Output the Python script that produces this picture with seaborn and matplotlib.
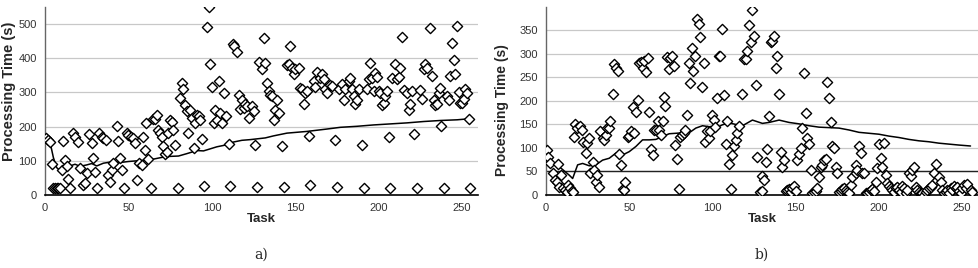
import numpy as np
import pandas as pd
import matplotlib
matplotlib.use("Agg")
import matplotlib.pyplot as plt
import seaborn as sns

# ---- panel a: processing time per task ----
task_a = [0.4, 2, 3, 4, 5, 6, 7, 8, 9, 10, 11, 12, 13, 14, 15, 17, 18, 20, 21, 23, 24, 25, 26.5, 28, 29, 30,
          31, 32.5, 34, 35, 36.5, 38, 39, 40, 41, 43, 44, 45, 46, 47.5, 49, 50, 51.5, 52.5, 54, 55, 56.5, 58,
          59, 60, 61.5, 60.5, 63.5, 64.5, 66, 67, 68, 69, 70, 71, 72, 73, 74, 75, 76, 77, 78, 79.5, 81, 82,
          83, 84, 85, 86, 87, 88, 89, 90, 91, 92, 93, 94, 95, 97, 98, 99, 100, 101, 102, 103, 104, 105, 106,
          107, 108.5, 110, 111, 112.5, 113.5, 115, 116, 117, 118, 119, 120, 121, 122, 124, 125, 126, 127,
          128, 130, 131, 132, 133, 134, 135, 136, 137, 138, 139, 140, 142, 143, 145, 146, 147, 148, 149, 150,
          152, 153, 154, 155, 156, 157, 158, 159, 161, 162, 163, 165, 166, 167, 168, 169, 171, 172, 174, 175,
          176, 178, 179, 180, 182, 183, 184, 185, 186, 187, 188, 190, 191, 193, 194, 195, 196, 197, 198, 199,
          200, 201, 202, 203, 204, 205, 206, 207, 208, 210, 211, 212, 213, 214, 215, 217, 218, 219, 220, 221,
          223, 225, 226, 227, 228, 229, 231, 232, 233, 234, 235, 236, 237, 237.5, 239, 241, 242, 243, 244,
          245, 246, 247, 248, 249, 250, 251, 252, 253, 254, 255]
time_a = [166, 161, 156, 90, 20, 20, 20, 20, 20, 73, 158, 102, 86, 47, 20, 182, 170, 156, 78, 29, 34, 63, 177, 151, 109, 66,
          20, 182, 170, 166, 161, 58, 39, 73, 95, 203, 159, 107, 73, 20, 180, 175, 171, 166, 151, 44, 93, 88,
          169, 132, 105, 210, 20, 222, 222, 235, 191, 181, 171, 142, 120, 127, 181, 220, 215, 191, 147, 20, 284, 328,
          309, 262, 245, 181, 250, 225, 137, 211, 235, 230, 220, 164, 27, 492, 551, 384, 316, 211, 250, 220, 333, 240, 211,
          299, 230, 149, 27, 441, 436, 417, 292, 252, 279, 255, 265, 260, 225, 260, 245, 145, 24,
          389, 368, 458, 385, 328, 304, 294, 289, 219, 250, 277, 240, 144, 23, 379, 382, 436, 372, 353, 368,
          372, 314, 309, 265, 299, 304, 172, 29, 333, 317, 360, 343, 353, 338, 309, 299, 321, 319, 162, 23,
          309, 324, 279, 311, 333, 343, 309, 289, 265, 279, 309, 147, 20, 311, 338, 385, 343, 304, 356, 346,
          304, 297, 262, 268, 289, 304, 170, 20, 343, 382, 338, 346, 372, 463, 307, 299, 250, 265, 304, 179,
          20, 307, 281, 368, 382, 372, 488, 348, 279, 262, 265, 299, 314, 201, 20, 289, 279, 348, 444,
          395, 353, 493, 301, 270, 268, 281, 309, 299, 223, 20]

line_task_a = [0.4, 3, 5, 7, 9, 12, 15, 18, 21, 25, 28, 31, 35, 40, 45, 50, 55, 63, 70, 75, 80, 85, 91, 95,
               103, 108, 113, 118, 123, 132, 137, 145, 157, 169, 177, 187, 197, 207, 217, 227, 237, 247, 254]
line_a = [167, 155, 110, 80, 72, 78, 85, 90, 84, 88, 92, 85, 93, 97, 95, 98, 100, 103, 110, 113, 114, 121, 130, 129,
          141, 146, 155, 160, 162, 167, 173, 181, 186, 193, 198, 201, 205, 208, 211, 215, 218, 220, 223]

# ---- panel b ----
task_b = [0.4, 1.4, 2.4, 4, 5.4, 6.4, 7, 8, 9, 10, 11.4, 12.4, 13.4, 14.4, 15.4, 16.4, 16.6, 17.4, 18.8, 20.4,
          21.4, 22.4, 24, 24.7, 26, 26.7, 28, 29, 30, 30.7, 32, 32.7, 34, 35, 36, 36.7, 38, 38.7, 40, 40.7, 42,
          43, 44, 45, 46, 47, 47.7, 49, 50, 51, 52, 53, 54, 55, 56, 57, 58, 59, 60, 61, 62, 63, 64, 65, 66, 67,
          68, 69, 70, 70.7, 71.6, 72.6, 73.6, 74.6, 75.6, 76.6, 77.6, 78.6, 79.8, 80.6, 81.8, 82.6, 83.6, 84.6,
          85.6, 86.6, 87.6, 88.6, 89.6, 90.6, 91.8, 92.8, 93.8, 94.8, 95.8, 96.8, 97.8, 98.8, 99.8, 100.8,
          101.8, 102.8, 103.8, 104.8, 105.8, 106.8, 108, 109, 110, 111, 112, 113, 114, 115, 116, 118, 119,
          120, 121, 122, 123, 124, 125, 126, 127, 128.6, 129.6, 130, 131, 132, 133, 134, 135, 136, 137, 138,
          139, 140, 141, 142, 143, 144, 145, 146, 147, 148, 149, 150, 151, 152, 153, 154, 155, 156, 157, 158,
          159, 160, 161, 162, 163, 164, 165, 166, 167, 168, 169, 170, 171, 172, 173, 174, 175, 176, 177, 178,
          179, 180, 181, 182, 183, 184, 186, 186.5, 187, 188, 189, 190, 191, 192, 193, 194, 195, 196, 197, 198,
          199, 200, 201, 202, 203, 204, 205, 206, 207, 208, 209, 210, 211, 212, 213, 214, 215, 216, 217, 218,
          219, 220, 221, 222, 223, 224, 225, 226, 227, 228, 229, 230, 231, 232, 233, 234, 235, 236, 237, 238,
          239, 240, 241, 242, 243, 244, 245, 246, 247, 248, 249, 250, 251, 252, 253, 255, 256]
time_b = [96, 81, 67, 46, 32, 28, 65, 18, 42, 14, 11, 7, 21, 14, 8, 6, 124, 151, 142, 147,
          138, 113, 90, 110, 122, 46, 71, 53, 28, 42, 16, 135, 122, 117, 127, 142, 143, 158, 215, 278, 269,
          263, 87, 64, 12, 11, 28, 124, 126, 136, 186, 132, 177, 202, 280, 283, 269, 285, 262, 290, 177, 98, 85, 138, 137, 156,
          138, 127, 156, 207, 189, 292, 267, 290, 294, 273, 106, 76, 12, 123, 127, 131, 138, 170,
          280, 237, 312, 264, 294, 373, 363, 336, 230, 280, 113, 135, 120, 136, 170, 159,
          145, 205, 294, 294, 352, 212, 108, 156, 66, 12, 85, 103, 117, 131, 147, 215, 288,
          288, 305, 361, 324, 393, 338, 234, 81, 7, 9, 40, 32, 71, 97, 168, 324, 326, 338, 269,
          294, 215, 92, 60, 74, 9, 11, 12, 7, 14, 19, 9, 74, 88, 99, 142, 258, 173, 122, 108,
          53, 5, 7, 9, 14, 39, 60, 64, 74, 76, 239, 205, 154, 103, 99, 60, 46, 6, 9, 12,
          14, 11, 7, 4, 21, 39, 64, 47, 52, 103, 90, 46, 47, 4, 5, 7, 11, 12, 9, 28,
          57, 108, 78, 60, 111, 42, 26, 19, 14, 11, 7, 14, 18, 11, 7, 19, 14, 5, 11, 46,
          40, 53, 59, 18, 11, 7, 4, 5, 1, 7, 11, 14, 18, 21, 46, 65, 32, 38, 28, 11,
          5, 7, 11, 4, 14, 11, 19, 14, 18, 9, 5, 14, 21, 14, 23, 11, 7]

line_task_b = [0.4, 4, 9, 14, 16, 19, 22, 26, 30, 34, 38, 42, 46, 50, 54, 58, 62, 66, 70, 74, 78, 82, 86, 90,
               94, 98, 102, 106, 110, 115, 118, 124, 130, 134, 140, 146, 152, 158, 164, 170, 176, 182, 188,
               194, 200, 206, 212, 218, 224, 230, 236, 242, 248, 255]
line_b = [96, 67, 57, 42, 35, 64, 67, 62, 64, 74, 78, 89, 85, 92, 103, 117, 117, 118, 124, 130, 131, 132, 132, 142,
          147, 145, 142, 149, 153, 149, 147, 159, 152, 154, 159, 154, 151, 147, 144, 143, 142, 138, 133,
          131, 129, 125, 122, 118, 115, 113, 110, 108, 106, 104]

xticks = [0, 50, 100, 150, 200, 250]
yticks_a = [0, 100, 200, 300, 400, 500]
yticks_b = [0, 50, 100, 150, 200, 250, 300, 350]

sns.set_style("white")
plt.rcParams['font.family'] = ['Liberation Sans', 'DejaVu Sans']

fig = plt.figure(figsize=(9.79, 2.68), dpi=100)
ax_a = fig.add_axes([45 / 979, 73 / 268, 433 / 979, 188 / 268])
ax_b = fig.add_axes([546 / 979, 73 / 268, 432 / 979, 188 / 268])

# (axes, scatter x, scatter y, line x, line y, y ticks, y max, caption, ylabel size, ylabel pos)
panels = [
    (ax_a, task_a, time_a, line_task_a, line_a, yticks_a, 550, "a)", 10.5, (-0.068, 0.55)),
    (ax_b, task_b, time_b, line_task_b, line_b, yticks_b, 399, "b)", 10, (-0.086, 0.45)),
]

for ax, tx, ty, lx, ly, yt, ymax, cap, yl_size, yl_pos in panels:
    for v in yt[1:]:
        ax.axhline(v, color="#c8c8c8", lw=0.9, zorder=0)
    sns.lineplot(x=lx, y=ly, ax=ax, color="black", lw=1.1, zorder=2)
    sns.scatterplot(x=tx, y=ty, ax=ax, marker="D", s=27, facecolor="white",
                    edgecolor="black", linewidth=1.0, zorder=3)
    ax.set_xlim(0, 259.5)
    ax.set_ylim(0, ymax)
    ax.set_xticks(xticks)
    ax.set_yticks(yt)
    ax.tick_params(axis="both", labelsize=8, colors="#333333", length=3, width=0.8, pad=3)
    for s in ["top", "right"]:
        ax.spines[s].set_visible(False)
    ax.spines["left"].set_color("#666666")
    ax.spines["left"].set_linewidth(1.0)
    ax.spines["bottom"].set_color("black")
    ax.spines["bottom"].set_linewidth(1.2)
    ax.set_xlabel("Task", fontsize=9.5, fontweight="bold", labelpad=0)
    ax.set_ylabel("Processing Time (s)", fontsize=yl_size, fontweight="bold")
    ax.yaxis.set_label_coords(*yl_pos)
    ax.text(0.5, -0.32, cap, transform=ax.transAxes, ha="center", va="center",
            fontsize=10, family="DejaVu Serif")

ax_b.axhline(50, color="#222222", lw=1.0, zorder=1)

fig.savefig("out.png", dpi=100)
